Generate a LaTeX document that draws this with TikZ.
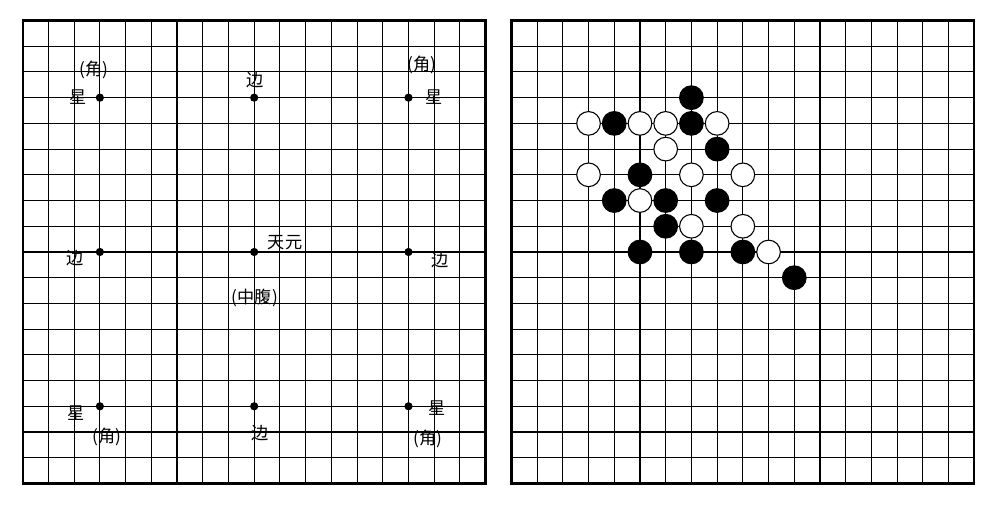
\documentclass[tikz,border=0pt]{standalone}
\usepackage{fontspec}
\newfontfamily\cjk{Noto Sans CJK SC}

\begin{document}
\begin{tikzpicture}[
  x=0.5cm, y=-0.5cm,
  grid line/.style={line width=0.6pt},
  frame/.style={line width=1.3pt},
  star/.style={circle, fill=black, inner sep=0pt, minimum size=1.6mm},
  cjklabel/.style={font=\cjk\fontsize{9.5}{10}\selectfont, inner sep=0pt},
  bstone/.style={circle, draw, fill=black, line width=0.6pt, inner sep=0pt, minimum size=4.6mm},
  wstone/.style={bstone, fill=white}
]
\useasboundingbox (-0.883,-0.797) rectangle (37.96,18.99);

% Left board: the names of the points
\foreach \i in {0,...,18} {
  \draw[grid line] (\i,0) -- (\i,18);
  \draw[grid line] (0,\i) -- (18,\i);
}
\draw[frame] (0,0) rectangle (18,18);

\foreach \c in {3,9,15}
  \foreach \r in {3,9,15}
    \node[star] (s\c-\r) at (\c,\r) {};

% corners
\node[cjklabel] (tl-jiao) at (2.78,1.92)  {(角)};
\node[cjklabel] (tl-xing) at (2.15,2.97)  {星};
\node[cjklabel] (tr-jiao) at (15.52,1.73) {(角)};
\node[cjklabel] (tr-xing) at (15.99,2.97) {星};
\node[cjklabel] (bl-xing) at (2.07,15.26) {星};
\node[cjklabel] (bl-jiao) at (3.28,16.19) {(角)};
\node[cjklabel] (br-xing) at (16.11,15.07) {星};
\node[cjklabel] (br-jiao) at (15.76,16.27) {(角)};

% sides and centre
\node[cjklabel] (t-bian) at (9.03,2.31)  {边};
\node[cjklabel] (l-bian) at (2.03,9.23)  {边};
\node[cjklabel] (r-bian) at (16.22,9.31) {边};
\node[cjklabel] (b-bian) at (9.23,16.04) {边};
\node[cjklabel] (tianyuan) at (10.2,8.65)  {天元};
\node[cjklabel] (zhongfu)  at (9.03,10.79) {(中腹)};

% Right board: a position
\begin{scope}[shift={(19,0)}]
  \foreach \i in {0,...,18} {
    \draw[grid line] (\i,0) -- (\i,18);
    \draw[grid line] (0,\i) -- (18,\i);
  }
  \draw[frame] (0,0) rectangle (18,18);

  \foreach \c/\r [count=\n] in {7/3, 4/4, 7/4, 8/5, 5/6, 4/7, 6/7, 8/7, 6/8, 5/9, 7/9, 9/9, 11/10}
    \node[bstone] (b\n) at (\c,\r) {};
  \foreach \c/\r [count=\n] in {3/4, 5/4, 6/4, 8/4, 6/5, 3/6, 7/6, 9/6, 5/7, 7/8, 9/8, 10/9}
    \node[wstone] (w\n) at (\c,\r) {};
\end{scope}

\end{tikzpicture}
\end{document}
